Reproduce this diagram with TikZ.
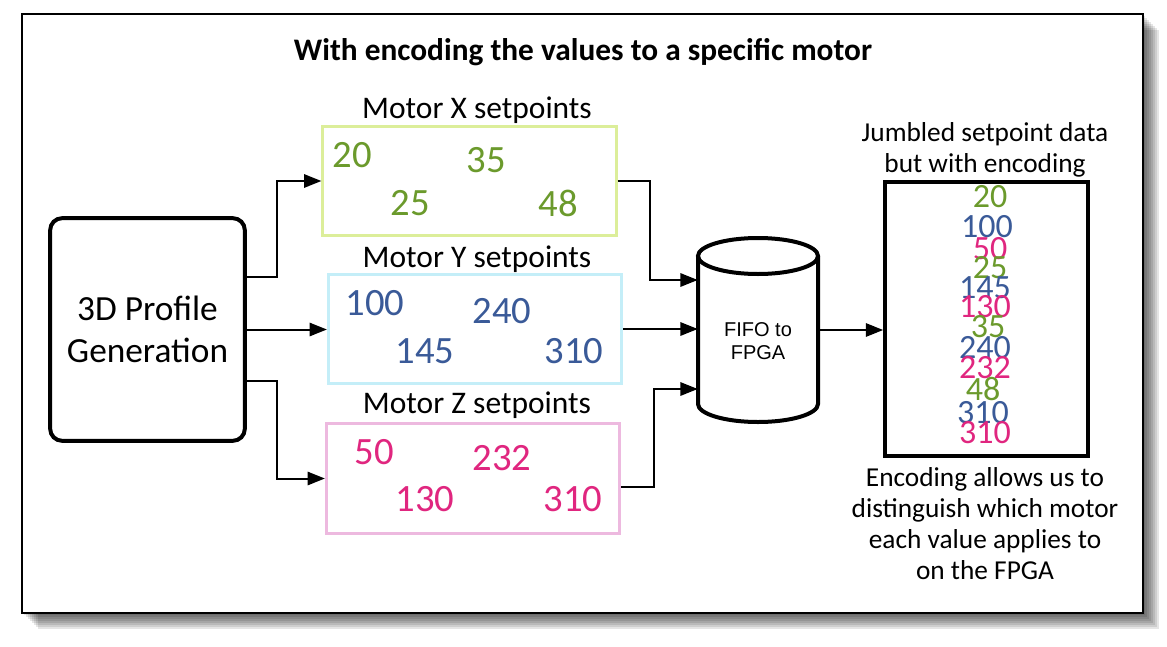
\documentclass[tikz,border=0pt]{standalone}
\usepackage{fontspec}
\setmainfont{Carlito}
\newfontfamily\arialfont{Liberation Sans}
\usetikzlibrary{arrows.meta}

\definecolor{xgreen}{HTML}{6B9A2C}
\definecolor{yblue}{HTML}{3A5A98}
\definecolor{zpink}{HTML}{E0267F}
\definecolor{xframe}{HTML}{DCEE9A}
\definecolor{yframe}{HTML}{C4EEF8}
\definecolor{zframe}{HTML}{EDB9DF}

\tikzset{
	conn/.style={line width=1.5pt, -{Triangle[length=13pt, width=10pt]}},
	setbox/.style={draw, line width=2.2pt, minimum width=220pt, minimum height=82pt, inner sep=0pt},
	setlabel/.style={font=\fontsize{23.6}{27}\selectfont, anchor=base},
	setnum/.style={font=\fontsize{29}{30}\selectfont, inner sep=0pt},
	jnum/.style={font=\fontsize{25.5}{26}\selectfont, inner sep=0pt},
	sidetext/.style={font=\fontsize{20.5}{23.25}\selectfont, align=center},
}

\begin{document}
\begin{tikzpicture}[x=0.75pt, y=-0.75pt]
	\useasboundingbox (0,0) rectangle (1167,646);

	% frame with shadow
	\foreach \s in {2,4,...,16}
		\fill[black, opacity=0.1] (22+\s,14+\s) rectangle (1143+\s,613+\s);
	\draw[fill=white, line width=1.5pt] (22,14) rectangle (1143,613);

	\node[font=\bfseries\fontsize{23.5}{27}\selectfont, anchor=base] (title) at (583,60) {With encoding the values to a specific motor};

	\node[draw, line width=3pt, rounded corners=9pt, minimum width=146pt, minimum height=167pt, align=center, font=\fontsize{26.5}{32}\selectfont] (prof) at (147.5,329.5) {3D Profile\\Generation};

	% setpoint boxes
	\node[setbox, draw=xframe] (mx) at (469.5,181) {};
	\node[setbox, draw=yframe] (my) at (475,329) {};
	\node[setbox, draw=zframe] (mz) at (473,478.5) {};

	\node[setlabel] (lx) at (477,118) {Motor X setpoints};
	\node[setlabel] (ly) at (477,267) {Motor Y setpoints};
	\node[setlabel] (lz) at (477,413) {Motor Z setpoints};

	\node[setnum, text=xgreen] (x20) at (352,155) {20};
	\node[setnum, text=xgreen] (x35) at (486,160) {35};
	\node[setnum, text=xgreen] (x25) at (410,203) {25};
	\node[setnum, text=xgreen] (x48) at (558,203) {48};

	\node[setnum, text=yblue] (y100) at (375,303) {100};
	\node[setnum, text=yblue] (y240) at (502,311) {240};
	\node[setnum, text=yblue] (y145) at (425,351) {145};
	\node[setnum, text=yblue] (y310) at (574,351) {310};

	\node[setnum, text=zpink] (z50) at (374,452) {50};
	\node[setnum, text=zpink] (z232) at (502,458) {232};
	\node[setnum, text=zpink] (z130) at (425,499) {130};
	\node[setnum, text=zpink] (z310) at (573,499) {310};

	\draw[conn] ([yshift=39.4pt]prof.east) -- ++(30,0) |- (mx.west);
	\draw[conn] (prof.east) -- (prof.east -| my.west);
	\draw[conn] ([yshift=-38.6pt]prof.east) -- ++(30,0) |- (mz.west);

	% fifo
	\node[minimum width=90pt, minimum height=138pt, inner sep=0pt] (fifo) at (758,330) {};
	\draw[line width=3pt] (698,256) -- (698,404) arc[start angle=180, end angle=0, x radius=60, y radius=18] -- (818,256);
	\draw[line width=3pt] (758,256) ellipse[x radius=60, y radius=18];
	\node[font=\arialfont\fontsize{15}{17.25}\selectfont, align=center] (fifotxt) at (758,341) {FIFO to\\FPGA};

	\draw[conn] (mx.east) -- ++(32,0) |- ([yshift=37.5pt]fifo.west);
	\draw[conn] (my.east) -- (my.east -| fifo.west);
	\draw[conn] ([yshift=-6.5pt]mz.east) -- ++(33,0) |- ([yshift=-44.25pt]fifo.west);

	% jumbled data
	\node[draw, line width=3pt, minimum width=152pt, minimum height=205.5pt] (jumble) at (986.5,319) {};
	\draw[conn] (fifo.east) -- (fifo.east -| jumble.west);
	\node[sidetext] (jtitle) at (985,150) {Jumbled setpoint data\\but with encoding};
	\node[sidetext] (jnote) at (985,524) {Encoding allows us to\\distinguish which motor\\each value applies to\\on the FPGA};

	\foreach \v/\c/\xx/\yy [count=\i] in {20/xgreen/990/197, 100/yblue/987/227, 50/zpink/990/249, 25/xgreen/990/268, 145/yblue/985/288, 130/zpink/985/307, 35/xgreen/988/327, 240/yblue/985/348, 232/zpink/985/368, 48/xgreen/983/389, 310/yblue/983/413, 310/zpink/985/433}
		\node[jnum, text=\c] (j\i) at (\xx,\yy) {\v};
\end{tikzpicture}
\end{document}
